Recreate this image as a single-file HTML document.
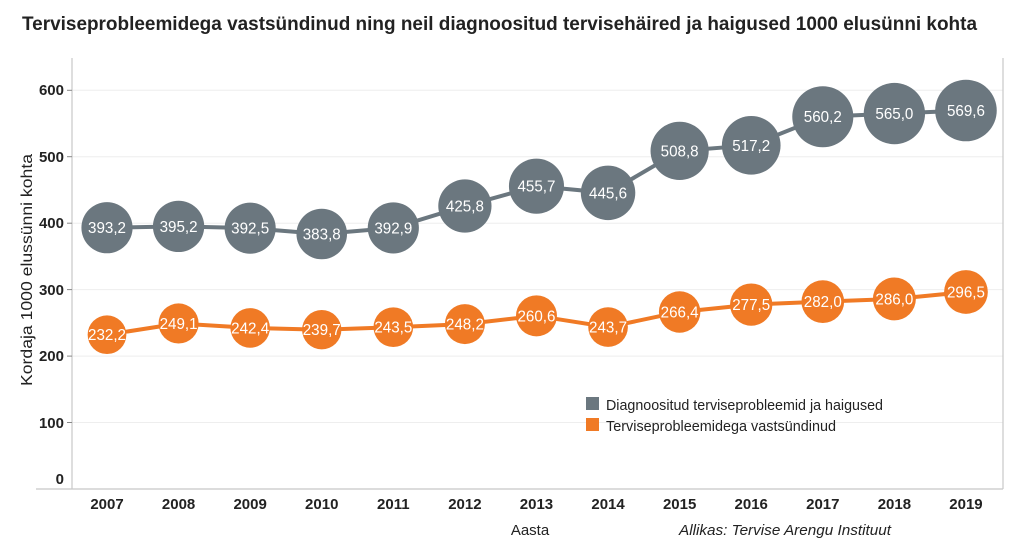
<!DOCTYPE html>
<html><head><meta charset="utf-8"><style>
body{margin:0;background:#fff;}
svg{display:block;font-family:"Liberation Sans",sans-serif;}
</style></head><body>
<svg width="1032" height="549" viewBox="0 0 1032 549" xmlns="http://www.w3.org/2000/svg">
<text x="22" y="30" font-size="19" font-weight="bold" fill="#222" textLength="955" lengthAdjust="spacingAndGlyphs">Terviseprobleemidega vastsündinud ning neil diagnoositud tervisehäired ja haigused 1000 elusünni kohta</text>
<g stroke="#eeeeee" stroke-width="1">
<line x1="72" x2="1003" y1="90.3" y2="90.3"/><line x1="72" x2="1003" y1="156.7" y2="156.7"/>
<line x1="72" x2="1003" y1="223.2" y2="223.2"/><line x1="72" x2="1003" y1="289.6" y2="289.6"/>
<line x1="72" x2="1003" y1="356.1" y2="356.1"/><line x1="72" x2="1003" y1="422.5" y2="422.5"/>
</g>
<g stroke="#c8c8c8" stroke-width="1.2" fill="none">
<line x1="72" x2="72" y1="58" y2="489"/><line x1="1003" x2="1003" y1="58" y2="489"/>
<line x1="36" x2="1003" y1="489" y2="489"/>
</g>
<g stroke="#888" stroke-width="1">
<line x1="67" x2="72" y1="90.3" y2="90.3"/><line x1="67" x2="72" y1="156.7" y2="156.7"/><line x1="67" x2="72" y1="223.2" y2="223.2"/><line x1="67" x2="72" y1="289.6" y2="289.6"/><line x1="67" x2="72" y1="356.1" y2="356.1"/><line x1="67" x2="72" y1="422.5" y2="422.5"/>
</g>
<g font-size="15" font-weight="bold" fill="#222" text-anchor="end">
<text x="64" y="95">600</text><text x="64" y="162">500</text><text x="64" y="228">400</text><text x="64" y="295">300</text><text x="64" y="361">200</text><text x="64" y="428">100</text><text x="64" y="484">0</text>
</g>
<text transform="translate(32,270) rotate(-90)" font-size="16" fill="#222" text-anchor="middle" textLength="232" lengthAdjust="spacingAndGlyphs">Kordaja 1000 elussünni kohta</text>
<g id="chart"></g>
<text x="530" y="535" font-size="15" fill="#222" text-anchor="middle">Aasta</text>
<text x="785" y="535" font-size="15" font-style="italic" fill="#222" text-anchor="middle" textLength="212" lengthAdjust="spacingAndGlyphs">Allikas: Tervise Arengu Instituut</text>
<rect x="586" y="397" width="13" height="13" fill="#6b777f"/>
<rect x="586" y="418" width="13" height="13" fill="#f07a25"/>
<text x="606" y="410" font-size="15" fill="#222" textLength="277" lengthAdjust="spacingAndGlyphs">Diagnoositud terviseprobleemid ja haigused</text>
<text x="606" y="431" font-size="15" fill="#222" textLength="230" lengthAdjust="spacingAndGlyphs">Terviseprobleemidega vastsündinud</text>
</svg>
<script>
var g=[393.2,395.2,392.5,383.8,392.9,425.8,455.7,445.6,508.8,517.2,560.2,565.0,569.6];
var o=[232.2,249.1,242.4,239.7,243.5,248.2,260.6,243.7,266.4,277.5,282.0,286.0,296.5];
var ns="http://www.w3.org/2000/svg",c=document.getElementById("chart"),s="";
function X(i){return 107+i*71.58}function Y(v){return 489-v*0.6645}
function ser(d,col,k){var p=d.map(function(v,i){return X(i)+","+Y(v)}).join(" ");
s+='<polyline points="'+p+'" fill="none" stroke="'+col+'" stroke-width="4"/>';
d.forEach(function(v,i){var r=k*Math.sqrt(v);s+='<circle cx="'+X(i)+'" cy="'+Y(v)+'" r="'+r+'" fill="'+col+'"/>';
s+='<text x="'+X(i)+'" y="'+(Y(v)+5.5)+'" font-size="16" fill="#fff" text-anchor="middle" textLength="38" lengthAdjust="spacingAndGlyphs">'+v.toFixed(1).replace(".",",")+'</text>';});}
ser(g,"#6b777f",1.29);ser(o,"#f07a25",1.27);
c.innerHTML=s;
for(var i=0;i<13;i++){var t=document.createElementNS(ns,"text");t.setAttribute("x",X(i));t.setAttribute("y",509);t.setAttribute("font-size","15");t.setAttribute("font-weight","bold");t.setAttribute("fill","#222");t.setAttribute("text-anchor","middle");t.textContent=2007+i;c.appendChild(t);}
</script>
</body></html>
